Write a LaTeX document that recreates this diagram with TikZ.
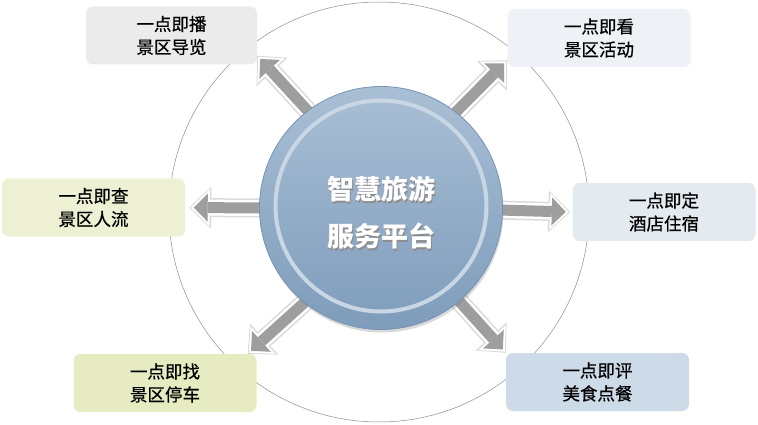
\documentclass[tikz,border=0pt]{standalone}
\usepackage{fontspec}
\setmainfont{Noto Sans CJK SC}
\newfontfamily\boxfont[UprightFeatures={FakeBold=0.6}]{Noto Sans CJK SC}
\usetikzlibrary{arrows.meta,shadows}

\definecolor{rimgray}{HTML}{8C8C8C}
\definecolor{hubtop}{HTML}{A9BFD5}
\definecolor{hubbot}{HTML}{7E9CBB}
\definecolor{hubedge}{HTML}{7894B3}
\definecolor{ringc}{HTML}{C9D7E5}
\definecolor{arrowgray}{HTML}{9E9E9E}
\definecolor{playfill}{HTML}{EBEBEB}
\definecolor{checkfill}{HTML}{EEF0D3}
\definecolor{viewfill}{HTML}{EEF2F7}
\definecolor{hotelfill}{HTML}{E3EAF0}
\definecolor{parkfill}{HTML}{E7EBC2}
\definecolor{foodfill}{HTML}{CCDBE7}

\pgfdeclarelayer{back}
\pgfdeclarelayer{front}
\pgfsetlayers{back,main,front}

\begin{document}
\begin{tikzpicture}[x=1pt, y=-1pt, thick,
	item node/.style={rectangle, rounded corners=7pt, minimum width=183pt, minimum height=58pt,
		inner sep=0pt, align=center, font=\boxfont\fontsize{17.5}{23}\selectfont},
	hub node/.style={circle, minimum size=243pt, inner sep=0pt, draw=hubedge, line width=0.8pt,
		top color=hubtop, bottom color=hubbot,
		drop shadow={opacity=0.3, shadow xshift=1pt, shadow yshift=-3pt}},
	title node/.style={align=center, font=\fontsize{27}{47}\selectfont\bfseries, text=white},
	arrow halo/.style={draw=gray!30, line width=19pt, shorten <=-20pt,
		-{Triangle[length=22pt,width=42pt,line width=0pt]}},
	arrow rim/.style={draw=white, line width=16pt, shorten <=-20pt, shorten >=1.5pt,
		-{Triangle[length=19pt,width=37pt,line width=0pt]}},
	arrow body/.style={draw=arrowgray, line width=11pt, shorten <=-20pt, shorten >=4.5pt,
		-{Triangle[length=14pt,width=28pt,line width=0pt]}}]
	
	\useasboundingbox (0,0) rectangle (758,425);
	
	\begin{pgfonlayer}{back}
		\node[circle, draw=rimgray, line width=0.5pt, minimum size=420pt, inner sep=0pt] (rim) at (379,212) {};
	\end{pgfonlayer}
	
	\node[item node, fill=playfill, minimum width=171pt] (play) at (171.5,35.5) {一点即播\\景区导览};
	\node[item node, fill=viewfill] (view) at (599,38) {一点即看\\景区活动};
	\node[item node, fill=checkfill] (check) at (93.5,207.5) {一点即查\\景区人流};
	\node[item node, fill=hotelfill] (hotel) at (664,212) {一点即定\\酒店住宿};
	\node[item node, fill=parkfill] (park) at (165,383) {一点即找\\景区停车};
	\node[item node, fill=foodfill] (food) at (597.5,382) {一点即评\\美食点餐};
	
	\begin{pgfonlayer}{front}
		\node[hub node] (hub) at (381,208) {};
		\node[circle, draw=ringc, line width=4pt, minimum size=211pt, inner sep=0pt] (ring) at (381,206) {};
		\node[title node, text=black!45] (title shadow) at ([xshift=1.5pt,yshift=-6.5pt]hub.center) {智慧旅游\\服务平台};
		\node[title node] (title) at ([yshift=-5pt]hub.center) {智慧旅游\\服务平台};
	\end{pgfonlayer}
	
	\coordinate (play tip) at ([yshift=9pt]play.south east);
	\coordinate (view tip) at ([yshift=7pt]view.south west);
	\coordinate (check tip) at ([xshift=4pt]check.east);
	\coordinate (hotel tip) at ([xshift=-2pt]hotel.west);
	\coordinate (park tip) at ([xshift=-9pt]park.north east);
	\coordinate (food tip) at (food.north west);
	
	\foreach \a/\b in {127/play, 52/view, 180/check, 359/hotel, 231/park, 310/food} {
		\draw[arrow halo] (hub.\a) -- (\b\space tip);
		\draw[arrow rim] (hub.\a) -- (\b\space tip);
		\draw[arrow body] (hub.\a) -- (\b\space tip);
	}
\end{tikzpicture}
\end{document}
